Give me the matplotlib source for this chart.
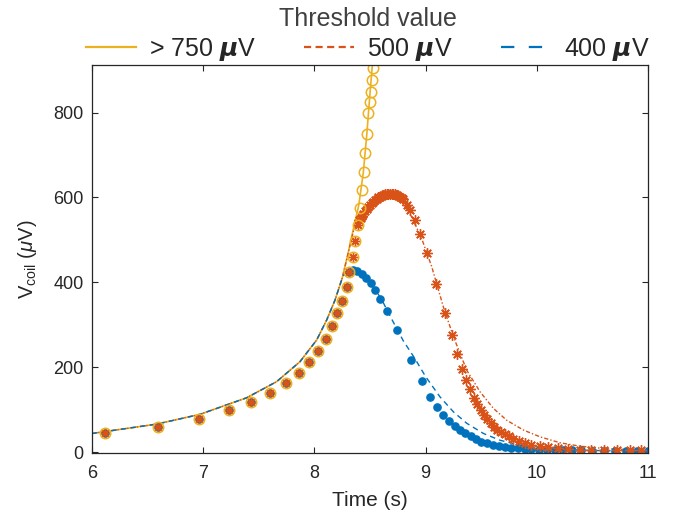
import numpy as np
import matplotlib
matplotlib.use("Agg")
import matplotlib.pyplot as plt
from matplotlib.lines import Line2D

plt.rcParams['font.family'] = ['Liberation Sans', 'DejaVu Sans']
plt.rcParams['mathtext.fontset'] = 'custom'
plt.rcParams['mathtext.rm'] = 'Liberation Sans'
plt.rcParams['mathtext.it'] = 'Liberation Sans:italic'
plt.rcParams['mathtext.bf'] = 'Liberation Sans:bold:italic'

# ---- data ----
# shared rising part of the fitted curves
t_line_common = [6.0, 6.58, 6.97, 7.39, 7.66, 7.87, 8.02, 8.11, 8.185, 8.25]
v_line_common = [44, 66, 89, 128, 166, 213, 264, 311, 358, 410]

# shared rising measured points
t_mark_common = [6.12, 6.59, 6.96, 7.23, 7.43, 7.60, 7.745, 7.86, 7.955, 8.03,
                 8.10, 8.16, 8.206, 8.25, 8.29, 8.314]
v_mark_common = [44, 60, 79, 99, 118, 140, 162, 187, 212, 239,
                 267, 297, 327, 357, 390, 425]

# > 750 uV
t_line_750 = [8.3, 8.35, 8.4, 8.44, 8.47, 8.5, 8.53]
v_line_750 = [465, 525, 583, 659, 745, 845, 940]
t_mark_750 = [8.344, 8.365, 8.39, 8.41, 8.428, 8.443, 8.458, 8.476, 8.485,
              8.497, 8.506, 8.515, 8.524]
v_mark_750 = [460, 497, 536, 576, 617, 659, 704, 749, 798, 824, 849, 876, 904]

# 500 uV
t_line_500 = [8.3, 8.35, 8.40, 8.45, 8.5, 8.55, 8.6, 8.65, 8.695, 8.785, 8.875,
              8.965, 9.055, 9.16, 9.25, 9.37, 9.49, 9.61, 9.73, 9.88, 10.03,
              10.21, 10.39, 10.63, 10.93, 11.0]
v_line_500 = [465, 520, 550, 568, 580, 590, 595, 598, 600, 590, 554,
              503, 437, 342, 272, 193, 142, 103, 75, 52, 36,
              22, 14, 8, 5, 4.5]
t_mark_500 = [8.344, 8.365, 8.39, 8.404, 8.415, 8.425, 8.44, 8.455, 8.47, 8.485,
              8.50, 8.515, 8.53, 8.545, 8.56, 8.575, 8.59, 8.605, 8.62, 8.635,
              8.65, 8.665, 8.68, 8.695, 8.71, 8.725, 8.74, 8.755, 8.77, 8.785,
              8.80, 8.835, 8.86, 8.905, 8.95, 9.01, 9.094, 9.175, 9.235, 9.285,
              9.33, 9.365, 9.40, 9.435, 9.465, 9.495, 9.525, 9.555, 9.585, 9.615,
              9.645, 9.675, 9.71, 9.75, 9.79, 9.84, 9.89, 9.95, 10.03, 10.10,
              10.19, 10.28, 10.39, 10.49, 10.6, 10.72, 10.84, 10.94]
v_mark_500 = [460, 497, 536, 546, 552, 557, 562, 567, 573, 578,
              582, 586, 590, 594, 597, 600, 602, 604, 606, 607,
              608, 609, 609, 609, 608, 607, 606, 604, 602, 599,
              596, 582, 570, 546, 515, 468, 396, 328, 275, 232,
              197, 170, 148, 127, 113, 99, 87, 77, 68, 60,
              53, 48, 42, 38, 32, 27, 22, 18, 14, 11,
              9, 7, 5.5, 4.7, 4, 4, 4, 4]

# 400 uV
t_line_400 = [8.29, 8.33, 8.4, 8.5, 8.6, 8.7, 8.8, 8.9, 9.0, 9.13, 9.25, 9.37,
              9.52, 9.67, 9.85, 10.03, 10.27, 10.6, 11.0]
v_line_400 = [428, 431, 424, 400, 362, 311, 262, 222, 178, 130, 95, 68,
              44, 28, 16.5, 9, 5, 3.5, 3]
t_mark_400 = [8.345, 8.385, 8.425, 8.465, 8.506, 8.545, 8.593, 8.656, 8.74, 8.87,
              8.965, 9.04, 9.105, 9.16, 9.21, 9.264, 9.31, 9.355, 9.406, 9.45,
              9.50, 9.555, 9.61, 9.66, 9.71, 9.77, 9.83, 9.89, 9.95, 10.02,
              10.09, 10.16, 10.24, 10.32, 10.4, 10.5, 10.6, 10.7, 10.8, 10.9, 11.0]
v_mark_400 = [429, 426, 419, 410, 398, 381, 360, 332, 287, 216,
              168, 130, 107, 87, 73, 61, 52, 44, 37, 31,
              25, 21, 17, 14.5, 12.5, 10.5, 9, 8, 7, 6,
              5.5, 5, 4.5, 4, 4, 3.5, 3.5, 3, 3, 3, 3]

labels = ['> 750 $\\boldsymbol{\\mu}$V', '500 $\\boldsymbol{\\mu}$V', '400 $\\boldsymbol{\\mu}$V']
c_y, c_o, c_b = '#EDB120', '#D95319', '#0072BD'
txt = '#262626'

fig = plt.figure(figsize=(6.76, 5.13), dpi=100)
ax = fig.add_axes([92/676, 60/513, 556/676, 388/513])

def cat(a, b):
    return list(a) + list(b)

# fitted lines
ax.plot(cat(t_line_common, t_line_750), cat(v_line_common, v_line_750),
        color=c_y, lw=1.2, ls='-')
ax.plot(cat(t_line_common, t_line_500), cat(v_line_common, v_line_500),
        color=c_o, lw=1.0, ls=(0, (3, 1.5, 1, 1.5)))
ax.plot(cat(t_line_common, t_line_400), cat(v_line_common, v_line_400),
        color=c_b, lw=1.0, ls=(0, (4, 3)))

# measured markers
ax.plot(cat(t_mark_common, t_mark_400), cat(v_mark_common, v_mark_400),
        ls='none', marker='o', ms=5.2, color=c_b, mec=c_b)
ax.plot(cat(t_mark_common, t_mark_500), cat(v_mark_common, v_mark_500),
        ls='none', marker=(8, 2, 0), ms=7.5, color=c_o, mec=c_o, mew=1.0)
ax.plot(cat(t_mark_common, t_mark_750), cat(v_mark_common, v_mark_750),
        ls='none', marker='o', ms=7.5, mfc='none', mec=c_y, mew=1.1)

ax.set_xlim(6, 11)
ax.set_ylim(-2, 912)
ax.set_xticks([6, 7, 8, 9, 10, 11])
ax.set_yticks([0, 200, 400, 600, 800])
ax.tick_params(direction='in', top=True, right=True, length=4, width=0.8,
               labelsize=13, colors=txt)
ax.tick_params(axis='x', pad=9)
ax.tick_params(axis='y', pad=6)
for s in ax.spines.values():
    s.set_color(txt)
    s.set_linewidth(0.9)
ax.set_xlabel('Time (s)', fontsize=15, color=txt, labelpad=6)
ax.set_ylabel('V$_{\\mathrm{coil}}$ ($\\mu$V)', fontsize=14.5, color=txt)
ax.yaxis.set_label_coords(-0.095, 0.5)

# legend proxies (style only)
h1 = Line2D([], [], color=c_y, lw=1.6, ls='-')
h2 = Line2D([], [], color=c_o, lw=1.6, ls=(0, (3.2, 2.0)))
h3 = Line2D([], [], color=c_b, lw=1.6, ls=(0, (6, 6.5)))
leg = ax.legend([h1, h2, h3], labels, loc='lower center', bbox_to_anchor=(0.496, 1.005),
                ncol=3, frameon=False, fontsize=18, title='Threshold value',
                title_fontsize=18, handlelength=2.0, handletextpad=0.5,
                columnspacing=1.95, borderaxespad=0.0, borderpad=0.0, labelspacing=0.2)
leg.get_title().set_color('#404040')
for t in leg.get_texts():
    t.set_color(txt)

fig.savefig('out.png', dpi=100)
